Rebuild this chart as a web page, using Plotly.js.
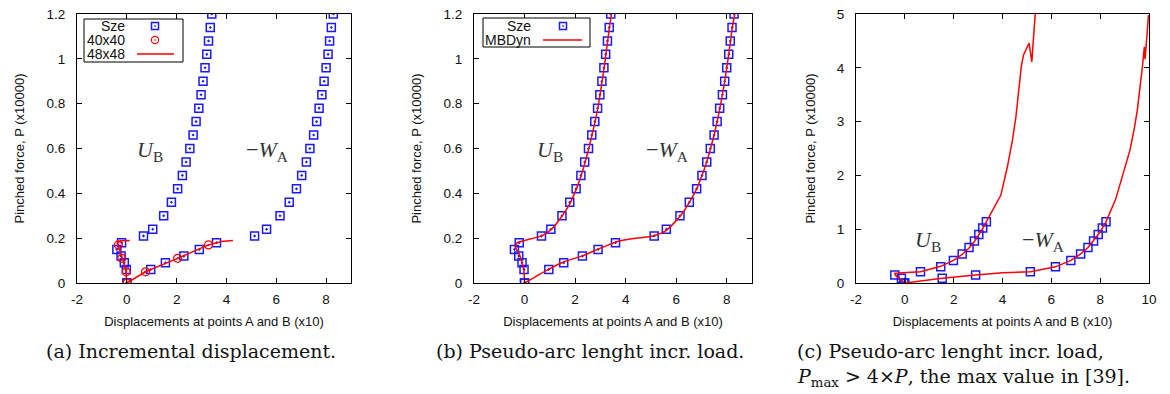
<!DOCTYPE html>
<html>
<head>
<meta charset="utf-8">
<script src="https://cdn.plot.ly/plotly-3.0.1.min.js"></script>
<style>html,body{margin:0;padding:0;background:#fff;}#chart{width:1170px;height:394px;}</style>
</head>
<body>
<div id="chart"></div>
<script>
// ---------- data ----------
// Sze reference (panels a, b)
const P_sze = [0,0.06,0.09,0.12,0.15,0.18,0.21,0.24,0.30,0.36,0.42,0.48,0.54,0.60,0.66,0.72,0.78,0.84,0.90,0.96,1.02,1.08,1.14,1.20];
const U_sze = [0,-0.02,-0.10,-0.23,-0.40,-0.21,0.67,1.04,1.48,1.79,2.04,2.23,2.38,2.53,2.66,2.78,2.89,2.98,3.06,3.14,3.21,3.28,3.35,3.41];
const W_sze = [0,0.96,1.55,2.29,2.91,3.60,5.13,5.61,6.15,6.52,6.81,7.02,7.21,7.35,7.50,7.62,7.72,7.83,7.92,8.00,8.08,8.14,8.21,8.29];

// panel a: 40x40 (circles)
const P_40 = [0,0.05,0.11,0.17];
const U_40 = [0,-0.02,-0.20,-0.34];
const W_40 = [0,0.75,2.04,3.28];

// panel a: 48x48 (line)
const P_48_U = [0,0.057,0.11,0.162,0.177,0.189,0.19];
const U_48   = [0,-0.04,-0.18,-0.32,-0.38,-0.25,0.12];
const P_48_W = [0,0.05,0.11,0.17,0.185,0.19];
const W_48   = [0,0.75,2.04,3.28,3.80,4.26];

// panel b: MBDyn (line)
const P_mb_U = [0,0.06,0.095,0.13,0.16,0.18,0.19,0.21,0.24,0.30,0.36,0.42,0.48,0.54,0.60,0.66,0.72,0.78,0.84,0.90,0.96,1.02,1.08,1.14,1.20];
const U_mb   = [0,-0.03,-0.11,-0.21,-0.36,-0.29,0.01,0.67,1.07,1.49,1.82,2.05,2.24,2.40,2.54,2.67,2.79,2.90,2.99,3.07,3.15,3.22,3.29,3.36,3.44];
const P_mb_W = [0,0.06,0.095,0.122,0.152,0.184,0.20,0.21,0.235,0.30,0.36,0.42,0.48,0.54,0.60,0.66,0.72,0.78,0.84,0.90,0.96,1.02,1.08,1.14,1.20];
const W_mb   = [0,0.93,1.57,2.32,2.94,3.64,4.43,5.09,5.61,6.17,6.52,6.81,7.02,7.21,7.36,7.50,7.62,7.73,7.83,7.92,8.00,8.08,8.15,8.22,8.32];

// panel c: Sze (squares)
const P_c = [0,0.09,0.15,0.21,0.30,0.42,0.54,0.66,0.78,0.90,1.02,1.14];
const U_c = [-0.04,-0.14,-0.41,0.64,1.47,1.99,2.35,2.63,2.85,3.03,3.19,3.34];
const W_c = [0,1.53,2.90,5.14,6.17,6.80,7.20,7.50,7.73,7.92,8.09,8.24];

// panel c: MBDyn (line)
const P_cl_U = [0,0.07,0.14,0.18,0.19,0.21,0.31,0.42,0.53,0.65,0.77,0.89,1.01,1.14,1.35,1.63,2.16,2.66,3.09,3.50,4.02,4.24,4.46,4.11,4.64,5.00];
const U_cl   = [0,-0.15,-0.38,-0.41,-0.10,0.64,1.47,1.99,2.35,2.63,2.85,3.03,3.19,3.34,3.60,3.93,4.20,4.41,4.55,4.65,4.77,4.86,5.09,5.20,5.30,5.34];
const P_cl_W = [0,0.09,0.15,0.19,0.21,0.30,0.42,0.54,0.66,0.78,0.90,1.02,1.14,1.55,2.47,2.88,3.21,4.02,4.39,4.16,4.46,4.98];
const W_cl   = [0,1.53,2.90,4.01,5.14,6.17,6.80,7.20,7.50,7.73,7.92,8.09,8.24,8.63,9.22,9.40,9.52,9.73,9.81,9.84,9.88,9.98];

// tick labels
const xTickValsAB = [-2,0,2,4,6,8];
const xTickTextAB = ['-2','0','2','4','6','8'];
const xTickValsC  = [-2,0,2,4,6,8,10];
const xTickTextC  = ['-2','0','2','4','6','8','10'];

const xTitle = 'Displacements at points A and B (x10)';
const yTitle = 'Pinched force, P (x10000)';
const captions = ['(a) Incremental displacement.', '(b) Pseudo-arc lenght incr. load.',
                  '(c) Pseudo-arc lenght incr. load,', '<i>P</i><sub>max</sub> &gt; 4×<i>P</i>, the max value in [39].'];
const legendA = ['Sze','40x40','48x48'];
const legendB = ['Sze','MBDyn'];

// ---------- styling ----------
const W = 1170, H = 394;
const fx = p => p / W;
const fy = p => 1 - p / H;
const BLUE = 'rgb(25,25,255)';
const RED = 'rgb(255,0,0)';
const SANS = 'Liberation Sans, Arial, sans-serif';
const SERIF = 'Liberation Serif, Times New Roman, serif';
const CAPSERIF = 'DejaVu Serif, Liberation Serif, serif';

const sq = (x, y, xa, ya, sym) => ({x, y, xaxis: xa, yaxis: ya, mode: 'markers', type: 'scatter', showlegend: false,
  marker: {symbol: sym || 'square-open-dot', size: 8, color: BLUE, line: {color: BLUE, width: 1.5}}});
const ln = (x, y, xa, ya, shape) => ({x, y, xaxis: xa, yaxis: ya, mode: 'lines', type: 'scatter', showlegend: false,
  line: {color: RED, width: 1.5, shape: shape || 'linear', smoothing: 0.6}});
const circ = (x, y, xa, ya) => ({x, y, xaxis: xa, yaxis: ya, mode: 'markers', type: 'scatter', showlegend: false,
  marker: {symbol: 'circle-open-dot', size: 8, color: RED, line: {color: RED, width: 1.2}}});

const traces = [
  // panel a
  sq(U_sze, P_sze, 'x', 'y'), sq(W_sze, P_sze, 'x', 'y'),
  circ(U_40, P_40, 'x', 'y'), circ(W_40, P_40, 'x', 'y'),
  ln(U_48, P_48_U, 'x', 'y'), ln(W_48, P_48_W, 'x', 'y'),
  // panel b
  sq(U_sze, P_sze, 'x2', 'y2'), sq(W_sze, P_sze, 'x2', 'y2'),
  ln(U_mb, P_mb_U, 'x2', 'y2', 'spline'), ln(W_mb, P_mb_W, 'x2', 'y2', 'spline'),
  // panel c
  sq(U_c, P_c, 'x3', 'y3', 'square-open'), sq(W_c, P_c, 'x3', 'y3', 'square-open'),
  ln(U_cl, P_cl_U, 'x3', 'y3'), ln(W_cl, P_cl_W, 'x3', 'y3')
];

const axBase = {showline: true, linecolor: '#000', linewidth: 1, mirror: 'ticks', ticks: 'inside', ticklen: 5,
  tickcolor: '#000', tickwidth: 1, showgrid: false, zeroline: false,
  tickfont: {family: SANS, size: 13.5, color: '#111'}};
const xAx = (dom, rng, tv, tt) => Object.assign({}, axBase, {domain: dom, range: rng, tickvals: tv, ticktext: tt,
  ticklabelstandoff: 4, title: {text: xTitle, font: {family: SANS, size: 13, color: '#111'}, standoff: 10}});
const yAx = (dom, rng, dt, anchor) => Object.assign({}, axBase, {domain: dom, range: rng, dtick: dt, tick0: 0, anchor: anchor,
  ticklabelstandoff: 8, title: {text: yTitle, font: {family: SANS, size: 13, color: '#111'}, standoff: 18}});

const yDom = [fy(283), fy(14)];

const ann = [];
const mathFont = {family: SERIF, size: 22, color: '#333'};
function addData(text, x, y, xr, yr, font) {
  ann.push({text, x, y, xref: xr, yref: yr, showarrow: false, font, xanchor: 'center', yanchor: 'middle'});
}
// curve labels (data coordinates)
addData('<i>U</i><sub>B</sub>', 0.95, 0.59, 'x', 'y', mathFont);
addData('−<i>W</i><sub>A</sub>', 5.64, 0.59, 'x', 'y', mathFont);
addData('<i>U</i><sub>B</sub>', 1.0, 0.59, 'x2', 'y2', mathFont);
addData('−<i>W</i><sub>A</sub>', 5.63, 0.59, 'x2', 'y2', mathFont);
addData('<i>U</i><sub>B</sub>', 0.95, 0.78, 'x3', 'y3', mathFont);
addData('−<i>W</i><sub>A</sub>', 5.67, 0.78, 'x3', 'y3', mathFont);

// captions
const capFont = {family: CAPSERIF, size: 19, color: '#111'};
ann.push({text: captions[0], x: fx(191), y: fy(351), xref: 'paper', yref: 'paper', showarrow: false, font: capFont, xanchor: 'center', yanchor: 'middle'});
ann.push({text: captions[1], x: fx(590), y: fy(351), xref: 'paper', yref: 'paper', showarrow: false, font: capFont, xanchor: 'center', yanchor: 'middle'});
ann.push({text: captions[2], x: fx(795), y: fy(351), xref: 'paper', yref: 'paper', showarrow: false, font: capFont, xanchor: 'left', yanchor: 'middle'});
ann.push({text: captions[3], x: fx(795), y: fy(377), xref: 'paper', yref: 'paper', showarrow: false, font: capFont, xanchor: 'left', yanchor: 'middle'});

// legends (gnuplot style: text then sample)
const legFont = {family: SANS, size: 14, color: '#111'};
const shapes = [];
function legBox(x0, y0, x1, y1) {
  shapes.push({type: 'rect', xref: 'paper', yref: 'paper', x0: fx(x0), x1: fx(x1), y0: fy(y1), y1: fy(y0),
    line: {color: '#000', width: 1}, fillcolor: '#fff', layer: 'above'});
}
function legText(t, xr, y) {
  ann.push({text: t, x: fx(xr), y: fy(y), xref: 'paper', yref: 'paper', showarrow: false, font: legFont, xanchor: 'right', yanchor: 'middle'});
}
function legSquare(cx, cy) {
  shapes.push({type: 'rect', xref: 'paper', yref: 'paper', x0: fx(cx - 3.5), x1: fx(cx + 3.5), y0: fy(cy + 3.5), y1: fy(cy - 3.5),
    line: {color: BLUE, width: 1.5}, layer: 'above'});
  shapes.push({type: 'rect', xref: 'paper', yref: 'paper', x0: fx(cx - 0.8), x1: fx(cx + 0.8), y0: fy(cy + 0.8), y1: fy(cy - 0.8),
    line: {width: 0}, fillcolor: BLUE, layer: 'above'});
}
function legCircle(cx, cy) {
  shapes.push({type: 'circle', xref: 'paper', yref: 'paper', x0: fx(cx - 3.6), x1: fx(cx + 3.6), y0: fy(cy + 3.6), y1: fy(cy - 3.6),
    line: {color: RED, width: 1.2}, layer: 'above'});
  shapes.push({type: 'circle', xref: 'paper', yref: 'paper', x0: fx(cx - 0.8), x1: fx(cx + 0.8), y0: fy(cy + 0.8), y1: fy(cy - 0.8),
    line: {width: 0}, fillcolor: RED, layer: 'above'});
}
function legLine(x0, x1, y) {
  shapes.push({type: 'line', xref: 'paper', yref: 'paper', x0: fx(x0), x1: fx(x1), y0: fy(y), y1: fy(y),
    line: {color: RED, width: 1.5}, layer: 'above'});
}
legBox(84, 19, 183, 62);
legText(legendA[0], 127, 26); legSquare(155, 26);
legText(legendA[1], 127, 40); legCircle(155, 40);
legText(legendA[2], 127, 54); legLine(137, 174, 54);
legBox(483, 18, 590, 47);
legText(legendB[0], 533, 26); legSquare(563, 26);
legText(legendB[1], 533, 40); legLine(543, 582, 40);

const layout = {
  width: W, height: H, margin: {l: 0, r: 0, t: 0, b: 0},
  paper_bgcolor: '#fff', plot_bgcolor: '#fff', showlegend: false,
  xaxis: xAx([fx(77), fx(351)], [-2, 9], xTickValsAB, xTickTextAB),
  yaxis: yAx(yDom, [0, 1.2], 0.2, 'x'),
  xaxis2: Object.assign(xAx([fx(474), fx(752)], [-2, 9], xTickValsAB, xTickTextAB), {anchor: 'y2'}),
  yaxis2: yAx(yDom, [0, 1.2], 0.2, 'x2'),
  xaxis3: Object.assign(xAx([fx(856), fx(1149)], [-2, 10], xTickValsC, xTickTextC), {anchor: 'y3'}),
  yaxis3: yAx(yDom, [0, 5], 1, 'x3'),
  annotations: ann, shapes: shapes
};
layout.xaxis.anchor = 'y';

Plotly.newPlot('chart', traces, layout, {displayModeBar: false, staticPlot: true});
</script>
</body>
</html>
